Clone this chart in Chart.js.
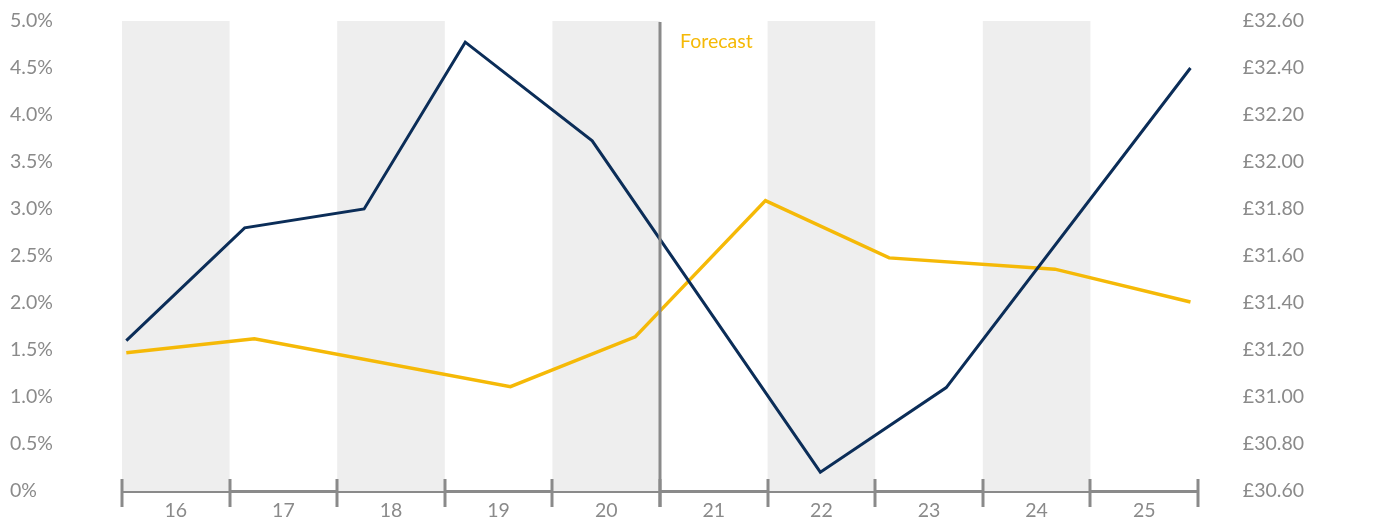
<!DOCTYPE html>
<html>
<head>
<meta charset="utf-8">
<script src="https://cdn.jsdelivr.net/npm/chart.js@4"></script>
<style>
  html, body { margin: 0; padding: 0; background: #fff; }
  #wrap { width: 1375px; height: 522px; }
</style>
</head>
<body>
<div id="wrap"><canvas id="myChart"></canvas></div>
<script>
// year tick labels (two digit)
const years = ['16', '17', '18', '19', '20', '21', '22', '23', '24', '25'];
const shadedYears = [16, 18, 20, 22, 24];
const forecastStart = 21;

// navy series, right axis (£)
const navyX = [16.04, 17.14, 18.25, 19.19, 20.37, 22.49, 23.66, 25.93];
const navyY = [31.24, 31.72, 31.80, 32.51, 32.09, 30.68, 31.04, 32.40];

// yellow series, left axis (%)
const yellowX = [16.04, 17.23, 19.61, 20.77, 21.98, 23.13, 24.67, 25.93];
const yellowY = [1.47, 1.62, 1.11, 1.64, 3.09, 2.48, 2.36, 2.01];

const grey = '#8a8a8a';
const navy = '#0b2d58';
const yellow = '#f5b907';
const font = { family: 'Lato, "Open Sans", sans-serif', size: 19.5 };

const decorPlugin = {
  id: 'decor',
  beforeDatasetsDraw(chart) {
    const { ctx, chartArea } = chart;
    const x = chart.scales.x;
    ctx.save();
    ctx.fillStyle = '#eeeeee';
    shadedYears.forEach(function (y) {
      const x0 = x.getPixelForValue(y);
      const x1 = x.getPixelForValue(y + 1);
      ctx.fillRect(x0, chartArea.top, x1 - x0, chartArea.bottom - chartArea.top);
    });
    ctx.restore();
  },
  afterDatasetsDraw(chart) {
    const { ctx, chartArea } = chart;
    const x = chart.scales.x;
    ctx.save();
    ctx.strokeStyle = grey;
    ctx.lineWidth = 3;
    // tick marks crossing the axis
    for (let y = 16; y <= 26; y++) {
      const px = Math.round(x.getPixelForValue(y));
      ctx.beginPath();
      ctx.moveTo(px, chartArea.bottom - 12);
      ctx.lineTo(px, chartArea.bottom + 16);
      ctx.stroke();
    }
    // forecast divider
    const fx = Math.round(x.getPixelForValue(forecastStart));
    ctx.beginPath();
    ctx.moveTo(fx, chartArea.top + 1);
    ctx.lineTo(fx, chartArea.bottom + 16);
    ctx.stroke();
    ctx.fillStyle = yellow;
    ctx.font = font.size + 'px ' + font.family;
    ctx.textBaseline = 'middle';
    ctx.fillText('Forecast', fx + 20, 42);
    ctx.restore();
  }
};

const config = {
  type: 'line',
  data: {
    datasets: [
      {
        label: 'Navy',
        data: navyX.map(function (v, i) { return { x: v, y: navyY[i] }; }),
        borderColor: navy,
        borderWidth: 3,
        pointRadius: 0,
        tension: 0,
        yAxisID: 'yRight'
      },
      {
        label: 'Yellow',
        data: yellowX.map(function (v, i) { return { x: v, y: yellowY[i] }; }),
        borderColor: yellow,
        borderWidth: 3.5,
        pointRadius: 0,
        tension: 0,
        yAxisID: 'yLeft'
      }
    ]
  },
  options: {
    responsive: true,
    maintainAspectRatio: false,
    animation: false,
    layout: { padding: { left: 10, right: 71, top: 21, bottom: 0 } },
    plugins: { legend: { display: false }, tooltip: { enabled: false } },
    scales: {
      x: {
        type: 'linear',
        min: 16,
        max: 26,
        afterBuildTicks: function (scale) {
          scale.ticks = years.map(function (y) { return { value: Number(y) + 0.5 }; });
        },
        afterFit: function (scale) { scale.height = 31; },
        grid: { display: false, drawTicks: false },
        border: { display: true, color: grey, width: 3 },
        ticks: {
          color: grey,
          font: font,
          padding: 8,
          maxRotation: 0,
          autoSkip: false,
          callback: function (v) { return String(Math.floor(v)); }
        }
      },
      yLeft: {
        position: 'left',
        min: 0,
        max: 5,
        afterFit: function (scale) { scale.width = 112; },
        grid: { display: false, drawTicks: false },
        border: { display: false },
        ticks: {
          stepSize: 0.5,
          color: grey,
          font: font,
          padding: 0,
          crossAlign: 'far',
          callback: function (v) { return v === 0 ? '0%' : v.toFixed(1) + '%'; }
        }
      },
      yRight: {
        position: 'right',
        min: 30.6,
        max: 32.6,
        afterFit: function (scale) { scale.width = 106; },
        grid: { display: false, drawTicks: false },
        border: { display: false },
        ticks: {
          stepSize: 0.2,
          color: grey,
          font: font,
          padding: 0,
          crossAlign: 'far',
          callback: function (v) { return '£' + v.toFixed(2); }
        }
      }
    }
  },
  plugins: [decorPlugin]
};

var myChart = new Chart(document.getElementById('myChart'), config);
</script>
</body>
</html>
